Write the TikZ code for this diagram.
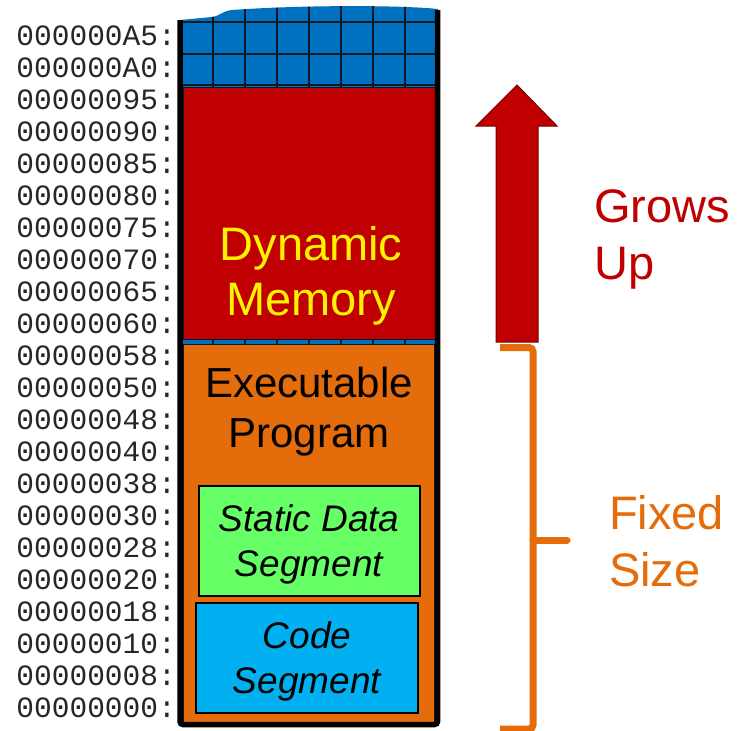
\documentclass[tikz,border=0pt]{standalone}
\usepackage{fontspec}
\setmainfont{Liberation Sans}
\newfontfamily\addrfont{Liberation Mono}
\definecolor{gridblue}{HTML}{0070C0}
\definecolor{heapred}{HTML}{C00000}
\definecolor{progorange}{HTML}{E46C0A}
\definecolor{datagreen}{HTML}{66FF66}
\definecolor{codecyan}{HTML}{00B0F0}
\definecolor{gridline}{HTML}{141820}

\tikzset{
  addr/.style={font=\addrfont\fontsize{29.5}{30}\selectfont, anchor=base east, inner sep=0pt, text=black!85},
  region/.style={anchor=north west, inner sep=0pt, draw=gridline, line width=1pt},
  biglabel/.style={font=\fontsize{47}{55}\selectfont, align=center},
  seglabel/.style={font=\itshape\fontsize{37}{45}\selectfont, align=center},
  sidelabel/.style={font=\fontsize{47}{57}\selectfont, align=left, anchor=west, inner sep=0pt}
}

\begin{document}
\begin{tikzpicture}[x=1pt,y=-1pt]
\useasboundingbox (0,0) rectangle (750,731);

% memory column: blue grid with a torn top edge
\def\colpath{(180,20) -- (212,17) .. controls (220,16) and (222,11) .. (232,10)
  .. controls (300,5) and (400,5) .. (438,9) -- (438,725) -- (180,725) -- cycle}
\fill[gridblue] \colpath;
\begin{scope}
  \clip \colpath;
  \foreach \x in {213,245,...,405} \draw[gridline, line width=2pt] (\x,0) -- (\x,725);
  \foreach \k in {0,...,22} \draw[gridline, line width=2pt] (180,22+31.7*\k) -- (438,22+31.7*\k);
\end{scope}

% regions
\node[region, fill=heapred, minimum width=256pt, minimum height=252pt] (heap) at (183,87) {};
\node[region, fill=progorange, minimum width=251pt, minimum height=378pt] (prog) at (183,344) {};
\node[region, draw=black, line width=1.5pt, fill=datagreen, minimum width=221pt, minimum height=110pt] (data) at (198,485) {};
\node[region, draw=black, line width=1.5pt, fill=codecyan, minimum width=222pt, minimum height=110pt] (code) at (195,602) {};

% column frame (sides and bottom)
\draw[black, line width=5.5pt, rounded corners=3pt] (180,20) -- (180,724.5) -- (437.5,724.5) -- (437.5,10);

% labels inside the column
\node[biglabel, text=yellow] (heaptext) at (311,276) {Dynamic\\Memory};
\node[biglabel, font=\fontsize{42}{50}\selectfont] (progtext) at (309,412) {Executable\\Program};
\node[seglabel] (datatext) at (309,544) {Static Data\\Segment};
\node[seglabel] (codetext) at (307,661) {Code\\Segment};

% addresses
\foreach \a [count=\i from 0] in {000000A5,000000A0,00000095,00000090,00000085,00000080,00000075,00000070,00000065,00000060,00000058,00000050,00000048,00000040,00000038,00000030,00000028,00000020,00000018,00000010,00000008,00000000}
  \node[addr] (addr\i) at (176,45.5+31.98*\i) {\a:};

% growth arrow
\draw[heapred!60!black, line width=1pt, fill=heapred, line join=miter]
  (517,85) -- (557,126) -- (538,126) -- (538,342) -- (496,342) -- (496,126) -- (476,126) -- cycle;
\node[sidelabel, text=heapred] (grows) at (594,239) {Grows\\Up};

% fixed-size bracket
\draw[progorange, line width=7pt, rounded corners=4pt] (500,347.5) -- (533,347.5) -- (533,729) -- (500,729);
\coordinate (tickend) at (567,540);
\draw[progorange, line width=7pt, line cap=round] (533,540) -- (tickend);
\node[sidelabel, text=progorange] (fixed) at (609,541) {Fixed\\Size};
\end{tikzpicture}
\end{document}
